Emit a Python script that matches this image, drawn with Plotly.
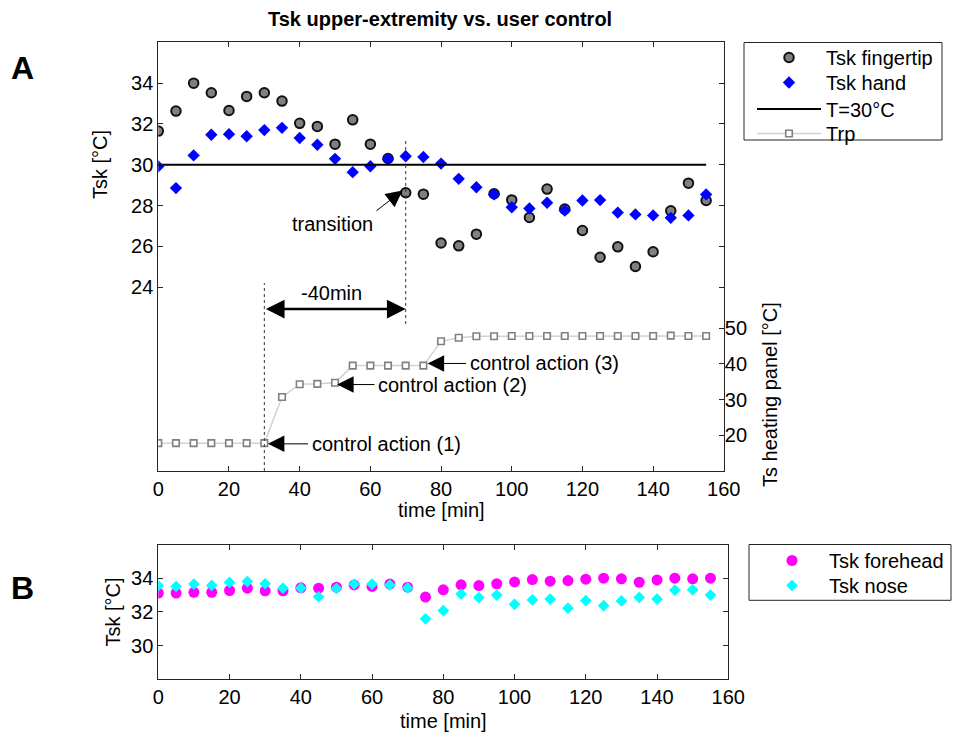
import plotly.graph_objects as go

# ---------------- data ----------------
time_min = [0, 5, 10, 15, 20, 25, 30, 35, 40, 45, 50, 55, 60, 65, 70, 75,
            80, 85, 90, 95, 100, 105, 110, 115, 120, 125, 130, 135, 140, 145, 150, 155]

tsk_fingertip = [31.65, 32.63, 34.00, 33.53, 32.66, 33.35, 33.53, 33.12, 32.03, 31.88,
                 31.01, 32.20, 31.01, 30.31, 28.63, 28.56, 26.17, 26.03, 26.60, 28.58,
                 28.28, 27.42, 28.81, 27.83, 26.78, 25.47, 25.98, 25.02, 25.74, 27.75,
                 29.10, 28.25]

tsk_hand = [29.92, 28.86, 30.46, 31.47, 31.50, 31.40, 31.70, 31.81, 31.31, 30.98,
            30.29, 29.64, 29.93, 30.28, 30.42, 30.38, 30.06, 29.31, 28.90, 28.55,
            27.92, 27.86, 28.14, 27.76, 28.25, 28.27, 27.66, 27.57, 27.52, 27.40,
            27.52, 28.55]

trp = [17.8, 17.8, 17.8, 17.8, 17.8, 17.8, 17.8, 30.7, 34.3, 34.4,
       34.7, 39.5, 39.5, 39.5, 39.5, 39.5, 46.3, 47.3, 47.7, 47.7,
       47.8, 47.8, 47.8, 47.8, 47.8, 47.8, 47.8, 47.8, 47.8, 47.9,
       47.8, 47.8]

tsk_forehead = [33.12, 33.12, 33.16, 33.16, 33.27, 33.41, 33.25, 33.25, 33.43, 33.41,
                33.47, 33.60, 33.51, 33.65, 33.47, 32.88, 33.31, 33.61, 33.56, 33.67,
                33.78, 33.92, 33.82, 33.86, 33.94, 34.00, 33.96, 33.76, 33.90, 34.00,
                33.96, 34.00]

tsk_nose = [33.55, 33.51, 33.65, 33.57, 33.75, 33.80, 33.67, 33.41, 33.41, 32.90,
            33.39, 33.65, 33.65, 33.59, 33.43, 31.59, 32.08, 33.06, 32.85, 33.00,
            32.45, 32.71, 32.76, 32.22, 32.67, 32.37, 32.65, 32.86, 32.76, 33.29,
            33.31, 33.00]

t_threshold = 30          # reference skin temperature [°C]
t_control = [30, 70]      # control action (1) and transition [min]

left_ticks = [24, 26, 28, 30, 32, 34]
right_ticks = [20, 30, 40, 50]
bottom_ticks = [30, 32, 34]
x_ticks = [0, 20, 40, 60, 80, 100, 120, 140, 160]

# ---------------- figure ----------------
W, H = 954, 736
FONT = "Liberation Sans, Arial, Helvetica, sans-serif"
AX = "#262626"


def px(x):
    return x / W


def py(y):
    return 1 - y / H


fig = go.Figure()

fig.add_trace(go.Scatter(
    x=time_min, y=tsk_fingertip, mode="markers", name="Tsk fingertip",
    marker=dict(symbol="circle", size=9.5, color="#808080",
                line=dict(color="#111111", width=2)),
    xaxis="x", yaxis="y", legend="legend"))
fig.add_trace(go.Scatter(
    x=time_min, y=tsk_hand, mode="markers", name="Tsk hand",
    marker=dict(symbol="diamond", size=9.5, color="#0000ff",
                line=dict(color="#0000ff", width=0)),
    xaxis="x", yaxis="y", legend="legend2"))
fig.add_trace(go.Scatter(
    x=[time_min[0], time_min[-1]], y=[t_threshold, t_threshold], mode="lines",
    name="T=30°C", line=dict(color="#000000", width=2),
    xaxis="x", yaxis="y", legend="legend3"))
fig.add_trace(go.Scatter(
    x=time_min, y=trp, mode="lines+markers", name="Trp",
    line=dict(color="#d2d2d2", width=1.5),
    marker=dict(symbol="square", size=6.5, color="#ffffff",
                line=dict(color="#808080", width=1.6)),
    xaxis="x", yaxis="y2", legend="legend4"))

fig.add_trace(go.Scatter(
    x=time_min, y=tsk_forehead, mode="markers", name="Tsk forehead",
    marker=dict(symbol="circle", size=11, color="#ff00ff"),
    xaxis="x2", yaxis="y3", legend="legend5"))
fig.add_trace(go.Scatter(
    x=time_min, y=tsk_nose, mode="markers", name="Tsk nose",
    marker=dict(symbol="diamond", size=9, color="#00ffff"),
    xaxis="x2", yaxis="y3", legend="legend6"))

axis_common = dict(showgrid=False, zeroline=False, showline=True, linecolor=AX,
                   linewidth=1, ticks="inside", ticklen=5, tickcolor=AX,
                   tickfont=dict(family=FONT, size=20, color="#000"))

top_dom_x = [px(158.3), px(723.8)]
top_dom_y = [py(471.0), py(42.3)]
bot_dom_x = [px(158.3), px(728.3)]
bot_dom_y = [py(679.3), py(544.5)]


def legend_at(x_left, row_center):
    # one single-entry legend per trace so each row sits at its own height
    return dict(x=px(x_left), y=py(row_center - 19), xanchor="left", yanchor="top",
                bgcolor="rgba(0,0,0,0)", borderwidth=0, itemwidth=64,
                font=dict(family=FONT, size=20, color="#000"))


fig.update_layout(
    width=W, height=H,
    margin=dict(l=0, r=0, t=0, b=0, autoexpand=False),
    paper_bgcolor="#ffffff", plot_bgcolor="#ffffff",
    font=dict(family=FONT, size=20, color="#000"),
    xaxis=dict(domain=top_dom_x, range=[0, 160], tickvals=x_ticks,
               mirror="ticks", anchor="y", **axis_common),
    yaxis=dict(domain=top_dom_y, range=[15, 36], tickvals=left_ticks,
               mirror="ticks", anchor="x", ticklabelstandoff=0, **axis_common),
    yaxis2=dict(overlaying="y", side="right", range=[10, 130], tickvals=right_ticks,
                anchor="x", **{**axis_common, "showline": False}),
    xaxis2=dict(domain=bot_dom_x, range=[0, 160], tickvals=x_ticks,
                mirror="ticks", anchor="y3", **axis_common),
    yaxis3=dict(domain=bot_dom_y, range=[28, 36], tickvals=bottom_ticks,
                mirror="ticks", anchor="x2", **axis_common),
    legend=legend_at(752, 57),
    legend2=legend_at(752, 82),
    legend3=legend_at(752, 108.5),
    legend4=legend_at(752, 133),
    legend5=legend_at(755, 560),
    legend6=legend_at(755, 585),
    showlegend=True,
)

# legend frames
fig.add_shape(type="rect", xref="paper", yref="paper",
              x0=px(744), x1=px(942), y0=py(140), y1=py(42.5),
              line=dict(color=AX, width=1), fillcolor="rgba(0,0,0,0)")
fig.add_shape(type="rect", xref="paper", yref="paper",
              x0=px(749), x1=px(951), y0=py(600.3), y1=py(544.5),
              line=dict(color=AX, width=1), fillcolor="rgba(0,0,0,0)")

# dotted markers for control action (1) and transition
fig.add_shape(type="line", xref="x", yref="y", x0=t_control[0], x1=t_control[0],
              y0=15, y1=24.2, line=dict(color="#333", width=1, dash="dot"))
fig.add_shape(type="line", xref="x", yref="y", x0=t_control[1], x1=t_control[1],
              y0=22.2, y1=31.2, line=dict(color="#333", width=1, dash="dot"))

ann = []


def text(x, y, s, size=20, xref="paper", yref="paper", xanchor="center",
         angle=0, bold=False):
    ann.append(dict(x=x, y=y, xref=xref, yref=yref, text=f"<b>{s}</b>" if bold else s,
                    showarrow=False, xanchor=xanchor, yanchor="middle",
                    textangle=angle, font=dict(family=FONT, size=size, color="#000")))


def arrow(x, y, ax, ay, yref="y", width=1, size=3.3, both=False):
    ann.append(dict(x=x, y=y, ax=ax, ay=ay, xref="x", yref=yref, axref="x",
                    ayref=yref, text="", showarrow=True, arrowhead=2,
                    arrowsize=size, arrowwidth=width, arrowcolor="#000",
                    arrowside="end+start" if both else "end",
                    startarrowhead=2, startarrowsize=size, standoff=0, startstandoff=0))


text(px(440), py(19), "Tsk upper-extremity vs. user control", size=20, bold=True)
text(px(22), py(68), "A", size=32, bold=True)
text(px(22), py(588), "B", size=32, bold=True)
text(px(100), py(165), "Tsk [°C]", angle=-90)
text(px(770), py(395), "Ts heating panel [°C]", angle=-90)
text(px(441), py(510), "time [min]")
text(px(112), py(612.5), "Tsk [°C]", angle=-90)
text(px(443), py(721), "time [min]")

# transition
text(49.2, 27.12, "transition", xref="x", yref="y")
arrow(69.1, 28.74, 61.3, 27.69)

# -40 min interval
text(48.9, 23.7, "-40min", xref="x", yref="y")
arrow(t_control[1], 22.93, t_control[0], 22.93, width=2.5, size=1.5, both=True)

# control actions on the heating panel
text(42.8, 17.6, "control action (1)", xref="x", yref="y2", xanchor="left")
arrow(31.0, 17.6, 42.8, 17.6, yref="y2")
text(61.6, 34.2, "control action (2)", xref="x", yref="y2", xanchor="left")
arrow(50.6, 34.2, 61.6, 34.2, yref="y2")
text(87.5, 40.1, "control action (3)", xref="x", yref="y2", xanchor="left")
arrow(76.2, 40.1, 87.5, 40.1, yref="y2")

fig.update_layout(annotations=ann)

fig.write_html("out.html")
